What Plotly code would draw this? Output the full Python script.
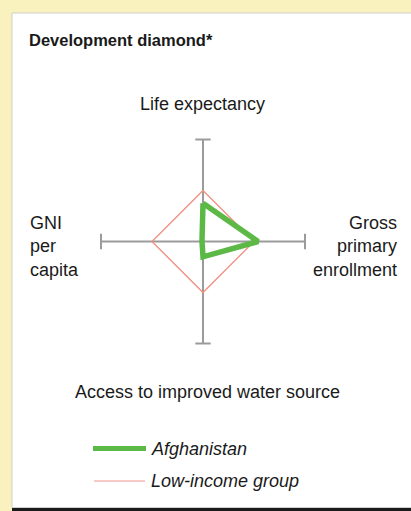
import math
import plotly.graph_objects as go

W, H = 411, 511

# ---- data ----
axis_labels = ["Life expectancy", "Gross<br>primary<br>enrollment",
               "Access to improved water source", "GNI<br>per<br>capita"]
axis_angles = [90, 0, 270, 180]          # direction of each axis (degrees)
axis_extent = 2.0                         # index scale; low-income group = 1
afghanistan = [0.75, 1.08, 0.30, 0.02]    # life, enrollment, water, GNI
low_income = [1.0, 1.0, 1.0, 1.0]
series_names = ["Afghanistan", "Low-income group"]


def to_xy(values):
    xs, ys = [], []
    for v, a in zip(values, axis_angles):
        xs.append(v * math.cos(math.radians(a)))
        ys.append(v * math.sin(math.radians(a)))
    xs.append(xs[0]); ys.append(ys[0])
    return xs, ys

# pixel helpers for layout
PX = 51.0                 # px per unit
CX, CY = 203.0, 241.5     # centre in pixels
def px(x): return x / W
def py(y): return 1 - y / H

fig = go.Figure()

AX = "#9b9b9b"
# axes with end caps
for a in axis_angles[:2]:
    c, s = math.cos(math.radians(a)), math.sin(math.radians(a))
    xs = [-axis_extent * c, axis_extent * c]
    ys = [-axis_extent * s, axis_extent * s]
    fig.add_trace(go.Scatter(
        x=xs, y=ys, mode="lines+markers", showlegend=False, hoverinfo="skip",
        line=dict(color=AX, width=2),
        marker=dict(symbol="line-ns" if a == 0 else "line-ew", size=11,
                    color=AX, line=dict(color=AX, width=2))))

lx, ly = to_xy(low_income)
fig.add_trace(go.Scatter(x=lx, y=ly, mode="lines", name=series_names[1],
                         showlegend=False,
                         line=dict(color="#f2907f", width=1.3)))
ax_, ay_ = to_xy(afghanistan)
fig.add_trace(go.Scatter(x=ax_, y=ay_, mode="lines", name=series_names[0],
                         showlegend=False,
                         line=dict(color="#5cb946", width=5.5)))

xr = [(0 - CX) / PX, (W - CX) / PX]
yr = [(CY - H) / PX, (CY - 0) / PX]

shapes = [
    dict(type="rect", xref="paper", yref="paper", x0=px(12), x1=px(W + 5),
         y0=py(507.5), y1=py(13), fillcolor="#ffffff",
         line=dict(color="#cfcfcf", width=1), layer="below"),
    dict(type="rect", xref="paper", yref="paper", x0=px(12), x1=px(W + 5),
         y0=py(H + 2), y1=py(508), fillcolor="#1a1a1a",
         line=dict(width=0), layer="below"),
    # legend swatches
    dict(type="line", xref="paper", yref="paper", x0=px(93), x1=px(146),
         y0=py(448.5), y1=py(448.5), line=dict(color="#5cb946", width=5)),
    dict(type="line", xref="paper", yref="paper", x0=px(94), x1=px(145),
         y0=py(481), y1=py(481), line=dict(color="#f6b9b3", width=1.5)),
]

F = "Liberation Sans, Arial, Helvetica, sans-serif"
ann = []
def text(t, x, y, xa="center", size=18, **kw):
    ann.append(dict(text=t, xref="paper", yref="paper", x=px(x), y=py(y),
                    xanchor=xa, yanchor="middle", showarrow=False,
                    font=dict(family=F, size=size, color="#1a1a1a"), **kw))

text("<b>Development diamond*</b>", 27, 40, xa="left", size=16.5)
text(axis_labels[0], 202, 104)
text(axis_labels[2], 207, 392)
text(axis_labels[3], 28, 246, xa="left", align="left")
text(axis_labels[1], 399, 246, xa="right", align="right")
text("<i>" + series_names[0] + "</i>", 149, 449, xa="left")
text("<i>" + series_names[1] + "</i>", 149, 481, xa="left")

fig.update_layout(
    width=W, height=H, margin=dict(l=0, r=0, t=0, b=0),
    paper_bgcolor="#f9f2bf", plot_bgcolor="rgba(0,0,0,0)",
    xaxis=dict(range=xr, visible=False, fixedrange=True),
    yaxis=dict(range=yr, visible=False, fixedrange=True),
    shapes=shapes, annotations=ann, showlegend=False,
)

fig.write_html(
    "out.html",
    config={"displayModeBar": False},
    post_script="document.body.style.margin='0';document.body.style.padding='0';"
                "document.body.style.overflow='hidden';",
)
